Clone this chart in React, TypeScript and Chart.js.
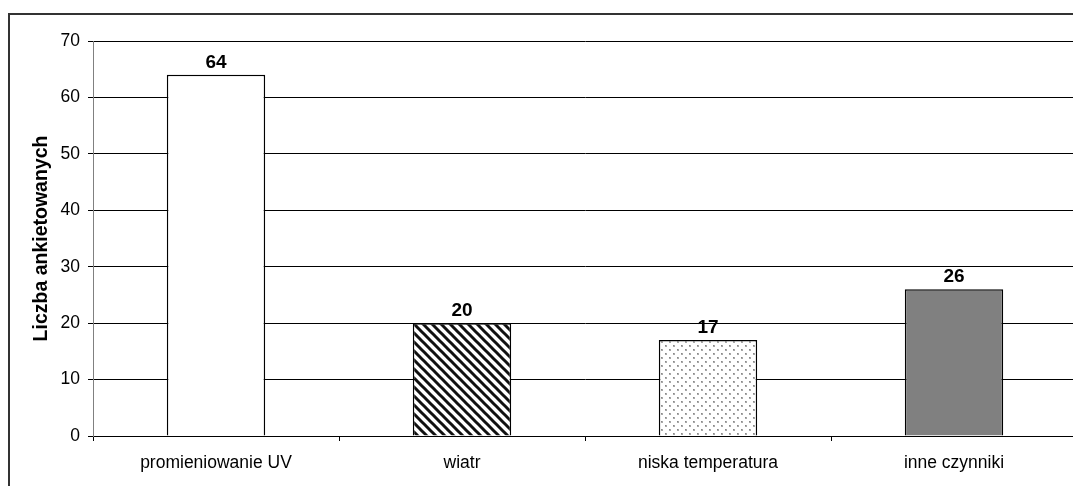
import React, { useEffect, useRef } from 'react';
import { Chart, registerables } from 'chart.js';

Chart.register(...registerables);

const categories = ['promieniowanie UV', 'wiatr', 'niska temperatura', 'inne czynniki'];
const values = [64, 20, 17, 26];
const yTickValues = [0, 10, 20, 30, 40, 50, 60, 70];
const yTitle = 'Liczba ankietowanych';

const W = 1090;
const H = 500;
const FONT = "'Liberation Sans', Arial, sans-serif";

function stripePattern(ctx: CanvasRenderingContext2D) {
  const s = 9;
  const c = document.createElement('canvas');
  c.width = s;
  c.height = s;
  const g = c.getContext('2d')!;
  g.fillStyle = '#fff';
  g.fillRect(0, 0, s, s);
  g.strokeStyle = '#111';
  g.lineWidth = 3;
  for (let k = -s; k <= s; k += s) {
    g.beginPath();
    g.moveTo(k - 2, -2);
    g.lineTo(k + s + 2, s + 2);
    g.stroke();
  }
  return ctx.createPattern(c, 'repeat')!;
}

function dotPattern(ctx: CanvasRenderingContext2D) {
  const s = 8;
  const c = document.createElement('canvas');
  c.width = s;
  c.height = s;
  const g = c.getContext('2d')!;
  g.fillStyle = '#fff';
  g.fillRect(0, 0, s, s);
  g.fillStyle = '#a8a8a8';
  g.fillRect(1, 1, 2, 2);
  g.fillRect(5, 5, 2, 2);
  g.fillStyle = '#888';
  g.fillRect(1, 1, 1, 1);
  g.fillRect(5, 5, 1, 1);
  return ctx.createPattern(c, 'repeat')!;
}

export default function App() {
  const ref = useRef<HTMLCanvasElement | null>(null);

  useEffect(() => {
    const canvas = ref.current!;
    const ctx = canvas.getContext('2d')!;

    const framePlugin = {
      id: 'frame',
      beforeDraw(chart: any) {
        const c = chart.ctx;
        c.save();
        c.strokeStyle = '#333';
        c.lineWidth = 2;
        c.strokeRect(9, 14, W, H);
        c.restore();
      },
    };

    const labelPlugin = {
      id: 'valueLabels',
      afterDatasetsDraw(chart: any) {
        const c = chart.ctx;
        const meta = chart.getDatasetMeta(0);
        c.save();
        c.font = `bold 19px ${FONT}`;
        c.fillStyle = '#000';
        c.textAlign = 'center';
        c.textBaseline = 'alphabetic';
        meta.data.forEach((bar: any, i: number) => {
          c.fillText(String(values[i]), bar.x, bar.y - 7);
        });
        c.restore();
      },
    };

    const chart = new Chart(ctx, {
      type: 'bar',
      data: {
        labels: categories,
        datasets: [
          {
            data: values,
            backgroundColor: ['#ffffff', stripePattern(ctx), dotPattern(ctx), '#808080'] as any,
            borderColor: '#000',
            borderWidth: 1.5,
            barPercentage: 0.4,
            categoryPercentage: 1,
          },
        ],
      },
      options: {
        responsive: false,
        animation: false,
        layout: { padding: { left: 0, top: 41, right: W - 1077, bottom: 0 } },
        plugins: {
          legend: { display: false },
          tooltip: { enabled: false },
        },
        scales: {
          x: {
            grid: {
              offset: true,
              drawOnChartArea: false,
              drawTicks: true,
              tickLength: 5,
              color: '#000',
            },
            border: { color: '#000', width: 1 },
            ticks: {
              color: '#000',
              padding: 12,
              maxRotation: 0,
              font: { family: FONT, size: 17.5 },
            },
            afterFit(scale: any) {
              scale.height = H - 436;
            },
          },
          y: {
            min: 0,
            max: 70,
            afterBuildTicks(scale: any) {
              scale.ticks = yTickValues.map((v) => ({ value: v }));
            },
            grid: {
              color: '#000',
              drawTicks: true,
              tickLength: 5,
            },
            border: { color: '#808080', width: 1 },
            ticks: {
              color: '#000',
              padding: 8,
              font: { family: FONT, size: 17.5 },
            },
            title: {
              display: true,
              text: yTitle,
              color: '#000',
              padding: { top: 30, bottom: 0 },
              font: { family: FONT, size: 19.5, weight: 'bold' },
            },
            afterFit(scale: any) {
              scale.width = 93;
            },
          },
        },
      },
      plugins: [framePlugin, labelPlugin],
    });

    return () => chart.destroy();
  }, []);

  return (
    <div
      style={{
        position: 'fixed',
        left: 0,
        top: 0,
        width: 1073,
        height: 486,
        overflow: 'hidden',
        background: '#fff',
      }}
    >
      <canvas
        ref={ref}
        width={W}
        height={H}
        style={{ position: 'absolute', left: 0, top: 0, width: W, height: H }}
      />
    </div>
  );
}
